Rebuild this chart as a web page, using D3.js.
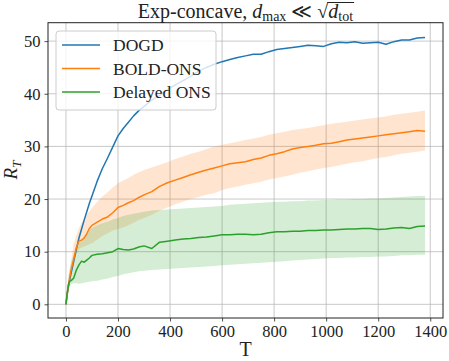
<!DOCTYPE html>
<html>
<head>
<meta charset="utf-8">
<script src="https://cdn.jsdelivr.net/npm/d3@7"></script>
<style>
  body { margin: 0; background: #fff; }
  svg { display: block; }
  text { font-family: "Liberation Serif", "DejaVu Serif", serif; fill: #222; }
</style>
</head>
<body>
<script>
// time steps (shared by all series)
var steps = [0,5,10,15,20,30,40,50,60,70,80,90,100,120,140,160,180,200,220,240,260,280,300,330,360,390,420,450,480,510,540,570,600,630,660,690,720,750,780,810,840,870,900,930,960,990,1020,1050,1080,1110,1140,1170,1200,1230,1260,1290,1320,1350,1380];

// DOGD mean regret
var dogd = [0,2.0,3.5,4.8,6.0,8.2,10.5,12.6,14.3,16.0,17.6,19.2,20.6,23.4,25.8,27.8,29.9,32.0,33.4,34.6,35.8,36.8,37.6,38.8,39.7,40.8,41.7,42.5,43.3,44.3,45.0,45.6,46.1,46.5,46.9,47.2,47.5,47.5,48.0,48.4,48.6,48.8,49.0,49.2,49.1,49.0,49.5,49.8,49.7,49.9,49.6,49.7,49.8,49.4,49.9,50.2,50.2,50.6,50.7];

// BOLD-ONS mean and band
var bold = [0,2.0,3.8,5.2,6.6,8.6,10.8,12.0,12.2,12.6,13.4,14.4,15.0,15.6,16.2,16.6,17.4,18.4,18.8,19.3,19.7,20.3,20.8,21.4,22.4,23.1,23.6,24.1,24.6,25.1,25.5,25.9,26.3,26.7,26.9,27.1,27.5,27.8,28.3,28.6,29.0,29.5,29.8,30.0,30.2,30.5,30.6,30.9,31.2,31.4,31.6,31.8,32.0,32.2,32.4,32.6,32.8,33.0,32.9];
var boldHi = [0,2.5,4.8,6.5,8.3,11.5,13.2,14.5,15.5,16.3,17.0,17.7,18.3,19.5,20.5,21.3,22.2,23.0,23.5,24.0,24.6,25.1,25.5,26.0,26.5,27.0,27.6,28.1,28.6,29.0,29.5,30.0,30.3,30.6,30.9,31.2,31.5,31.8,32.2,32.5,32.8,33.1,33.3,33.5,33.8,34.0,34.3,34.5,34.7,34.9,35.1,35.3,35.5,35.7,36.0,36.2,36.4,36.6,36.8];
var boldLo = [0,1.5,2.8,4.0,5.5,7.5,9.5,10.5,10.8,11.0,11.2,11.4,11.6,12.3,13.0,13.5,14.0,14.3,14.6,15.0,15.5,16.0,16.4,17.0,17.8,18.4,19.0,19.5,20.0,20.4,20.8,21.1,21.7,22.1,22.4,22.7,23.0,23.3,23.7,24.0,24.3,24.6,25.0,25.3,25.6,25.9,26.1,26.4,26.7,27.0,27.2,27.5,27.8,28.0,28.3,28.6,28.8,29.0,29.2];

// Delayed ONS mean and band
var delayed = [0,2.2,3.8,4.4,4.5,5.0,6.5,7.5,8.2,8.0,8.4,8.8,9.3,9.5,9.6,9.8,10.0,10.6,10.4,10.3,10.5,10.9,11.1,10.6,11.8,12.0,12.2,12.4,12.5,12.7,12.8,13.0,13.2,13.2,13.3,13.3,13.2,13.3,13.6,13.8,13.8,13.9,13.9,14.0,14.0,14.1,14.1,14.2,14.3,14.3,14.4,14.4,14.2,14.3,14.5,14.6,14.4,14.8,14.9];
var delayedHi = [0,3.0,5.5,7.0,8.0,9.5,10.5,11.5,12.2,13.0,13.6,14.1,14.5,15.0,15.4,15.7,16.1,16.4,16.8,17.0,17.2,17.4,17.6,17.8,17.9,18.0,18.1,18.2,18.3,18.4,18.5,18.6,18.7,18.9,19.0,19.1,19.2,19.3,19.4,19.5,19.5,19.6,19.6,19.7,19.7,19.8,19.8,19.9,19.9,20.0,20.0,20.1,20.1,20.2,20.3,20.4,20.5,20.6,20.6];
var delayedLo = [0,1.5,2.8,3.5,3.8,4.0,4.0,3.9,4.0,4.1,4.2,4.3,4.4,4.5,4.7,4.9,5.2,5.4,5.7,5.9,6.1,6.3,6.4,6.5,6.6,6.7,6.8,6.9,7.0,7.1,7.2,7.3,7.4,7.5,7.6,7.7,7.8,7.9,8.0,8.1,8.2,8.3,8.4,8.5,8.6,8.7,8.8,8.8,8.9,8.9,9.0,9.0,9.1,9.1,9.2,9.3,9.3,9.4,9.4];

var xTicks = [0,200,400,600,800,1000,1200,1400];
var yTicks = [0,10,20,30,40,50];
var names = ["DOGD", "BOLD-ONS", "Delayed ONS"];
var colors = ["#1f77b4", "#ff7f0e", "#2ca02c"];

var width = 449, height = 361;
var mLeft = 48, mRight = 443, mTop = 22.7, mBottom = 318;

var svg = d3.select("body").append("svg")
  .attr("width", width)
  .attr("height", height);

var x = d3.scaleLinear().domain([-69, 1449]).range([mLeft, mRight]);
var y = d3.scaleLinear().domain([-2.6, 53.5]).range([mBottom, mTop]);

//grid lines
svg.append("g").selectAll("line").data(xTicks).enter().append("line")
  .attr("x1", function(d){ return x(d); }).attr("x2", function(d){ return x(d); })
  .attr("y1", mTop).attr("y2", mBottom)
  .attr("stroke", "#b0b0b0").attr("stroke-opacity", 0.7).attr("stroke-width", 1);
svg.append("g").selectAll("line").data(yTicks).enter().append("line")
  .attr("y1", function(d){ return y(d); }).attr("y2", function(d){ return y(d); })
  .attr("x1", mLeft).attr("x2", mRight)
  .attr("stroke", "#b0b0b0").attr("stroke-opacity", 0.7).attr("stroke-width", 1);

var plot = svg.append("g");

//bands
var area = d3.area()
  .x(function(d){ return x(d[0]); })
  .y0(function(d){ return y(d[1]); })
  .y1(function(d){ return y(d[2]); });

[[boldLo, boldHi, colors[1]], [delayedLo, delayedHi, colors[2]]].forEach(function(b){
  plot.append("path")
    .datum(steps.map(function(t, i){ return [t, b[0][i], b[1][i]]; }))
    .attr("d", area)
    .attr("fill", b[2])
    .attr("fill-opacity", 0.2);
});

//mean lines
var line = d3.line()
  .x(function(d){ return x(d[0]); })
  .y(function(d){ return y(d[1]); });

[dogd, bold, delayed].forEach(function(s, k){
  plot.append("path")
    .datum(steps.map(function(t, i){ return [t, s[i]]; }))
    .attr("d", line)
    .attr("fill", "none")
    .attr("stroke", colors[k])
    .attr("stroke-width", 1.5)
    .attr("stroke-linejoin", "round");
});

//axes
var xAxis = svg.append("g")
  .attr("transform", "translate(0," + mBottom + ")")
  .call(d3.axisBottom(x).tickValues(xTicks).tickSize(3.5).tickPadding(4).tickFormat(d3.format("d")));
var yAxis = svg.append("g")
  .attr("transform", "translate(" + mLeft + ",0)")
  .call(d3.axisLeft(y).tickValues(yTicks).tickSize(3.5).tickPadding(4).tickFormat(d3.format("d")));
[xAxis, yAxis].forEach(function(a){
  a.attr("font-family", null);
  a.select(".domain").remove();
  a.selectAll("line").attr("stroke", "#222").attr("stroke-width", 0.8);
  a.selectAll("text").style("font-family", "'Liberation Serif', serif").style("font-size", "16.5px").attr("fill", "#222");
});

//frame
svg.append("rect")
  .attr("x", mLeft).attr("y", mTop)
  .attr("width", mRight - mLeft).attr("height", mBottom - mTop)
  .attr("fill", "none").attr("stroke", "#222").attr("stroke-width", 1);

//legend
var legend = svg.append("g");
legend.append("rect")
  .attr("x", 56).attr("y", 31).attr("width", 160).attr("height", 79)
  .attr("rx", 3)
  .attr("fill", "#fff").attr("fill-opacity", 0.8)
  .attr("stroke", "#cccccc").attr("stroke-width", 1);
names.forEach(function(n, i){
  var ly = 45 + i * 23.5;
  legend.append("line")
    .attr("x1", 62).attr("x2", 100).attr("y1", ly).attr("y2", ly)
    .attr("stroke", colors[i]).attr("stroke-width", 1.5);
  legend.append("text")
    .attr("x", 113).attr("y", ly + 6)
    .style("font-size", "17.5px")
    .text(n);
});

//axis labels
svg.append("text")
  .attr("x", (mLeft + mRight) / 2).attr("y", 356)
  .attr("text-anchor", "middle")
  .style("font-size", "20px")
  .text("T");

var yl = svg.append("text")
  .attr("transform", "translate(17,170) rotate(-90)")
  .attr("text-anchor", "middle")
  .style("font-size", "19px");
yl.append("tspan").style("font-style", "italic").text("R");
yl.append("tspan").attr("dy", 4).style("font-size", "13.5px").style("font-style", "italic").text("T");

//title, pieced together so the radical bar can be drawn
var title = svg.append("g");
var cx = 0;
function piece(txt, size, italic, dy){
  var t = title.append("text")
    .attr("x", cx).attr("y", 18 + (dy || 0))
    .style("font-size", size + "px")
    .style("font-style", italic ? "italic" : "normal")
    .text(txt);
  var w = t.node().getComputedTextLength();
  cx += w;
  return w;
}
piece("Exp-concave,\u00A0", 20);
piece("d", 20, true);
piece("max", 14, false, 3);
piece("\u00A0\u226A\u00A0", 20);
piece("\u221A", 20);
var barStart = cx;
piece("d", 20, true);
piece("tot", 14, false, 3);
title.append("line")
  .attr("x1", barStart - 1).attr("x2", cx + 1)
  .attr("y1", 2.5).attr("y2", 2.5)
  .attr("stroke", "#222").attr("stroke-width", 1);
title.attr("transform", "translate(" + ((mLeft + mRight) / 2 - cx / 2) + ",0)");
</script>
</body>
</html>
